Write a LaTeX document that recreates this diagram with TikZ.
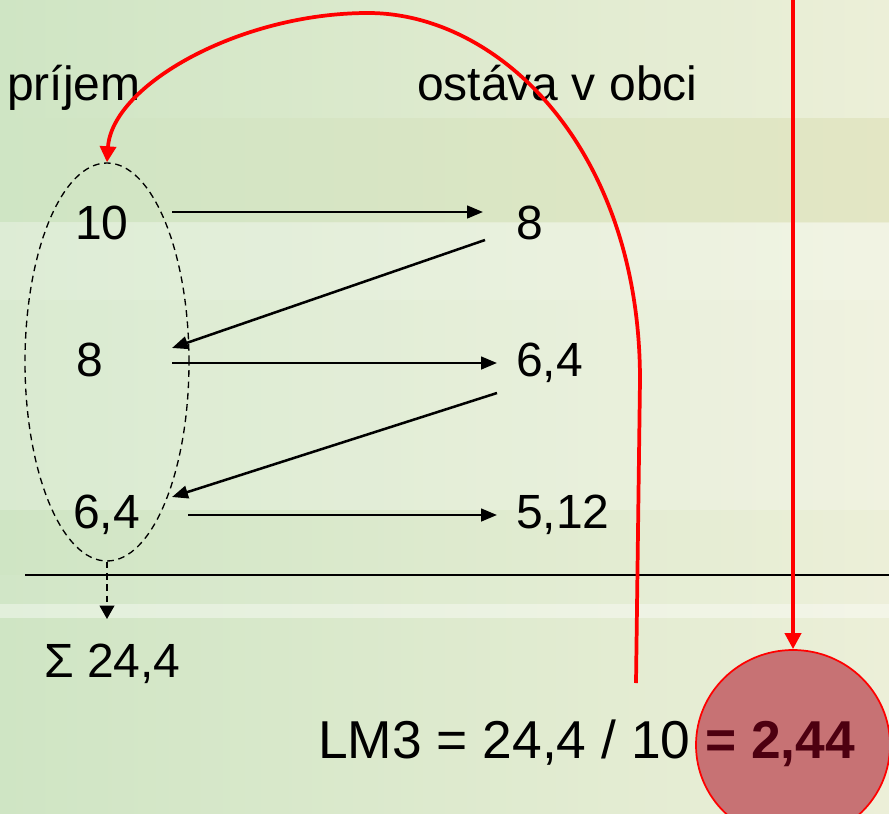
\documentclass[tikz,border=0pt]{standalone}
\usepackage{fontspec}
\setmainfont{Liberation Sans}
\usetikzlibrary{arrows.meta,shapes.geometric}
\definecolor{bgL}{HTML}{CFE5C4}
\definecolor{bgR}{HTML}{ECEFD8}
\definecolor{bandR}{HTML}{E3E6C4}
\definecolor{bandM}{HTML}{D6E3BE}
\definecolor{resfill}{HTML}{C77274}
\definecolor{maroon}{HTML}{4D0010}
\begin{document}
\begin{tikzpicture}[x=0.75pt,y=-0.75pt,
  lbl/.style={inner sep=0pt,anchor=base west,font=\fontsize{36}{40}\selectfont},
  big/.style={inner sep=0pt,anchor=base west,font=\fontsize{40}{44}\selectfont},
  blkarrow/.style={line width=1.9pt,-{Triangle[length=12pt,width=9.5pt]}},
  redarrow/.style={draw=red,line width=2.8pt,-{Triangle[length=12pt,width=12pt]}},
  lightband/.style={fill=white,draw=none}]
\clip (0,0) rectangle (889,814);
% background
\shade[left color=bgL,right color=bgR] (0,0) rectangle (889,814);
\shade[left color=bgL,right color=bandR] (0,118) rectangle (889,222);
\fill[lightband,opacity=0.30] (0,222) rectangle (889,272);
\fill[lightband,opacity=0.30] (0,272) rectangle (889,300);
\fill[lightband,opacity=0.22] (0,300) rectangle (889,510);
\fill[lightband,opacity=0.06] (0,575) rectangle (889,604);
\fill[lightband,opacity=0.40] (0,604) rectangle (889,618);

% dashed group ellipse
\node[ellipse,draw,dashed,dash pattern=on 5pt off 3.5pt,line width=1pt,
      minimum width=123pt,minimum height=298.5pt,inner sep=0pt] (grp) at (107,362) {};

% horizontal line
\coordinate (hl1) at (25,575);
\coordinate (hl2) at (889,575);
\draw[line width=1.2pt] (hl1) -- (hl2);

% result ellipse
\node[ellipse,draw=red,line width=1.3pt,fill=resfill,
      minimum width=145.5pt,minimum height=142.5pt,inner sep=0pt] (res) at (793,745) {};

% texts
\node[lbl] (prijem) at (7,100) {príjem};
\node[lbl] (ostava) at (417,100) {ostáva v obci};
\node[lbl] (L10) at (75,239) {10};
\node[lbl] (R8) at (516,239) {8};
\node[lbl] (L8) at (76,376) {8};
\node[lbl] (R64) at (516,376) {6,4};
\node[lbl] (L64) at (73,528) {6,4};
\node[lbl] (R512) at (516,528) {5,12};
\node[lbl] (sig) at (44,677) {Σ 24,4};
\node[big] (lm) at (318,758) {LM3 = 24,4 / 10 {\color{maroon}\bfseries = 2,44}};

% black arrows
\draw[blkarrow] ([shift={(97,-27)}]L10.base west) -- ([shift={(-33,-27)}]R8.base west);
\draw[blkarrow] ([shift={(-31,1)}]R8.base west) -- ([shift={(96,-28)}]L8.base west);
\draw[blkarrow] ([shift={(96,-13)}]L8.base west) -- ([shift={(-19,-13)}]R64.base west);
\draw[blkarrow] ([shift={(-19,17)}]R64.base west) -- ([shift={(99,-31)}]L64.base west);
\draw[blkarrow] ([shift={(115,-13)}]L64.base west) -- ([shift={(-19,-13)}]R512.base west);

% dashed sum arrow
\draw[line width=1.2pt,dashed,dash pattern=on 5pt off 3.5pt,-{Triangle[length=10pt,width=11pt]}]
  (grp.south) -- ([shift={(63,-58)}]sig.base west);

% red arrows
\coordinate (vtop) at (793,-5);
\draw[redarrow] (vtop) -- (res.north);
\coordinate (cstart) at (636,683);
\draw[redarrow] (cstart) -- (640,380) .. controls (640,150) and (500,13) .. (368,13)
   .. controls (240,13) and (112,85) .. (grp.north);
\end{tikzpicture}
\end{document}
